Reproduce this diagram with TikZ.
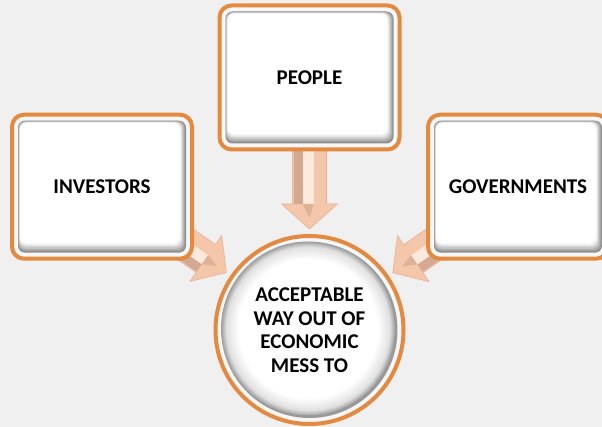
\documentclass[tikz,border=0pt]{standalone}
\usepackage{fontspec}
\newfontfamily\labelfont{Carlito}
\usetikzlibrary{calc, backgrounds}

\definecolor{pagegray}{HTML}{F0F0F0}
\definecolor{rimorange}{HTML}{E38A40}
\definecolor{gapwhite}{HTML}{F7F7F7}
\definecolor{arrowpeach}{HTML}{F4C7AA}
\definecolor{arrowedge}{HTML}{E7B296}
\definecolor{arrowdark}{HTML}{D3A991}
\definecolor{arrowlight}{HTML}{FDEADD}

\pgfdeclareradialshading{hubrim}{\pgfpoint{0bp}{0bp}}{color(0bp)=(white); color(20bp)=(white); color(23.5bp)=(black!12); color(25bp)=(black!38); color(50bp)=(black!38)}

% block arrow from #1 towards #2, #3 = shaded side, #4 = lit side
\newcommand{\fatarrow}[4]{%
  \coordinate (ta) at (#1.center);
  \coordinate (tb) at ($(#2.center)!101pt!(#1.center)$);
  \coordinate (tc) at ($(tb)!25pt!(ta)$);
  \filldraw[fill=arrowpeach, draw=arrowedge, line width=0.6pt, line join=round]
    ($(ta)!17pt!#3:(tb)$) -- ($(tc)!17pt!#3:(tb)$) -- ($(tc)!28pt!#3:(tb)$) -- (tb)
    -- ($(tc)!28pt!#4:(tb)$) -- ($(tc)!17pt!#4:(tb)$) -- ($(ta)!17pt!#4:(tb)$) -- cycle;
  \fill[arrowdark] ($(ta)!16pt!#3:(tb)$) -- ($(tc)!16pt!#3:(tb)$) -- ($(tc)!7pt!#3:(tb)$) -- ($(ta)!7pt!#3:(tb)$) -- cycle;
  \fill[arrowlight] ($(ta)!7pt!#3:(tb)$) -- ($(tc)!7pt!#3:(tb)$) -- ($(tc)!4pt!#4:(tb)$) -- ($(ta)!4pt!#4:(tb)$) -- cycle;
  \fill[arrowdark!70!arrowpeach] ($(tc)!7pt!#3:(tb)$) -- ($(tc)!4pt!#4:(tb)$) -- ($(tb)!11pt!(ta)$) -- cycle;
}

\tikzset{
  boxtext/.style={font={\labelfont\bfseries\fontsize{21pt}{23.5pt}\selectfont}, align=center, text=black},
  panel/.style={boxtext, rectangle, rounded corners=12pt, minimum width=180pt, minimum height=144pt,
    draw=rimorange, line width=4pt, fill=gapwhite,
    path picture={
      \foreach \k/\t in {0/45,1/38,2/31,3/24,4/17,5/10,6/5,7/0}
        \fill[black!\t, rounded corners=7pt]
          ($(path picture bounding box.north west)+({6+0.3*\k},{-6-0.3*\k})$)
          rectangle
          ($(path picture bounding box.south east)+({-6-0.85*\k},{6+1.3*\k})$);
    }},
  hub/.style={boxtext, circle, minimum size=188pt, inner sep=0pt,
    draw=rimorange, line width=4pt, fill=gapwhite,
    path picture={
      \fill[black!40] (path picture bounding box.center) circle (88pt);
      \shade[shading=hubrim] ($(path picture bounding box.center)+(-1.5,1.5)$) circle (87pt);
    }},
}

\begin{document}
\begin{tikzpicture}[x=1pt, y=1pt]
  \useasboundingbox (0,0) rectangle (602,427);

  \node[panel] (ppl) at (309.5,349.5) {PEOPLE};
  \node[panel] (inv) at (102,240.3) {INVESTORS};
  \node[panel] (gov) at (518,240.3) {GOVERNMENTS};
  \node[hub] (goal) at (309.5,97) {ACCEPTABLE\\WAY OUT OF\\ECONOMIC\\MESS TO};

  \begin{scope}[on background layer]
    \fill[pagegray] (0,0) rectangle (602,427);
    \fatarrow{ppl}{goal}{-90}{90}
    \fatarrow{inv}{goal}{-90}{90}
    \fatarrow{gov}{goal}{90}{-90}
  \end{scope}
\end{tikzpicture}
\end{document}
